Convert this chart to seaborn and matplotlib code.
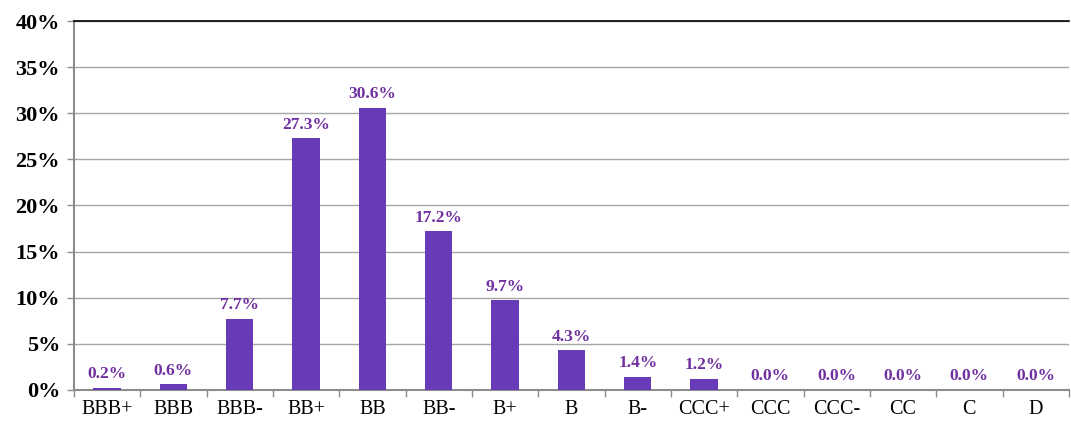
import matplotlib
matplotlib.use("Agg")
import matplotlib.pyplot as plt
import seaborn as sns
import pandas as pd
from matplotlib.ticker import MultipleLocator, FixedLocator, FuncFormatter

categories = ["BBB+", "BBB", "BBB-", "BB+", "BB", "BB-", "B+", "B", "B-",
              "CCC+", "CCC", "CCC-", "CC", "C", "D"]
values = [0.2, 0.6, 7.7, 27.3, 30.6, 17.2, 9.7, 4.3, 1.4, 1.2, 0.0, 0.0, 0.0, 0.0, 0.0]

df = pd.DataFrame({"rating": categories, "pct": values})

sns.set_theme(style="white")
plt.rcParams['font.family'] = ['Liberation Serif', 'DejaVu Serif']

fig = plt.figure(figsize=(10.71, 4.21), dpi=100)
ax = fig.add_axes([0.069, 0.074, 0.929, 0.876])

bar_color = "#673AB7"
label_color = "#7030A0"

sns.barplot(data=df, x="rating", y="pct", ax=ax, color=bar_color,
            width=0.41, saturation=1, edgecolor="none", zorder=3)

ax.set_xlim(-0.5, len(categories) - 0.5)
ax.set_ylim(0, 40)
ax.yaxis.set_major_locator(MultipleLocator(5))
ax.yaxis.set_major_formatter(FuncFormatter(lambda v, p: f"{v:.0f}%"))
ax.grid(axis="y", color="#A6A6A6", linewidth=1, zorder=0)
ax.grid(axis="x", visible=False)

for i, v in enumerate(values):
    ax.annotate(f"{v:.1f}%", (i, v), xytext=(0, 4), textcoords="offset points",
                ha="center", va="bottom", fontsize=12.5, fontweight="bold",
                color=label_color)

for lbl in ax.get_yticklabels():
    lbl.set_fontweight("bold")
ax.tick_params(axis="y", labelsize=16, length=5, width=1, color="#8C8C8C",
               left=True, pad=5, labelcolor="black")
ax.tick_params(axis="x", which="major", labelsize=14.5, length=0, pad=7,
               labelcolor="black")
ax.xaxis.set_minor_locator(FixedLocator([i + 0.5 for i in range(-1, len(categories))]))
ax.tick_params(axis="x", which="minor", bottom=True, length=5, width=1, color="#8C8C8C")

ax.set_xlabel("")
ax.set_ylabel("")

ax.spines["right"].set_visible(False)
ax.spines["top"].set_visible(True)
ax.spines["top"].set_color("black")
ax.spines["top"].set_linewidth(1.2)
ax.spines["left"].set_color("#8C8C8C")
ax.spines["left"].set_linewidth(1.5)
ax.spines["bottom"].set_color("#8C8C8C")
ax.spines["bottom"].set_linewidth(1.5)

fig.savefig("out.png", dpi=100)
